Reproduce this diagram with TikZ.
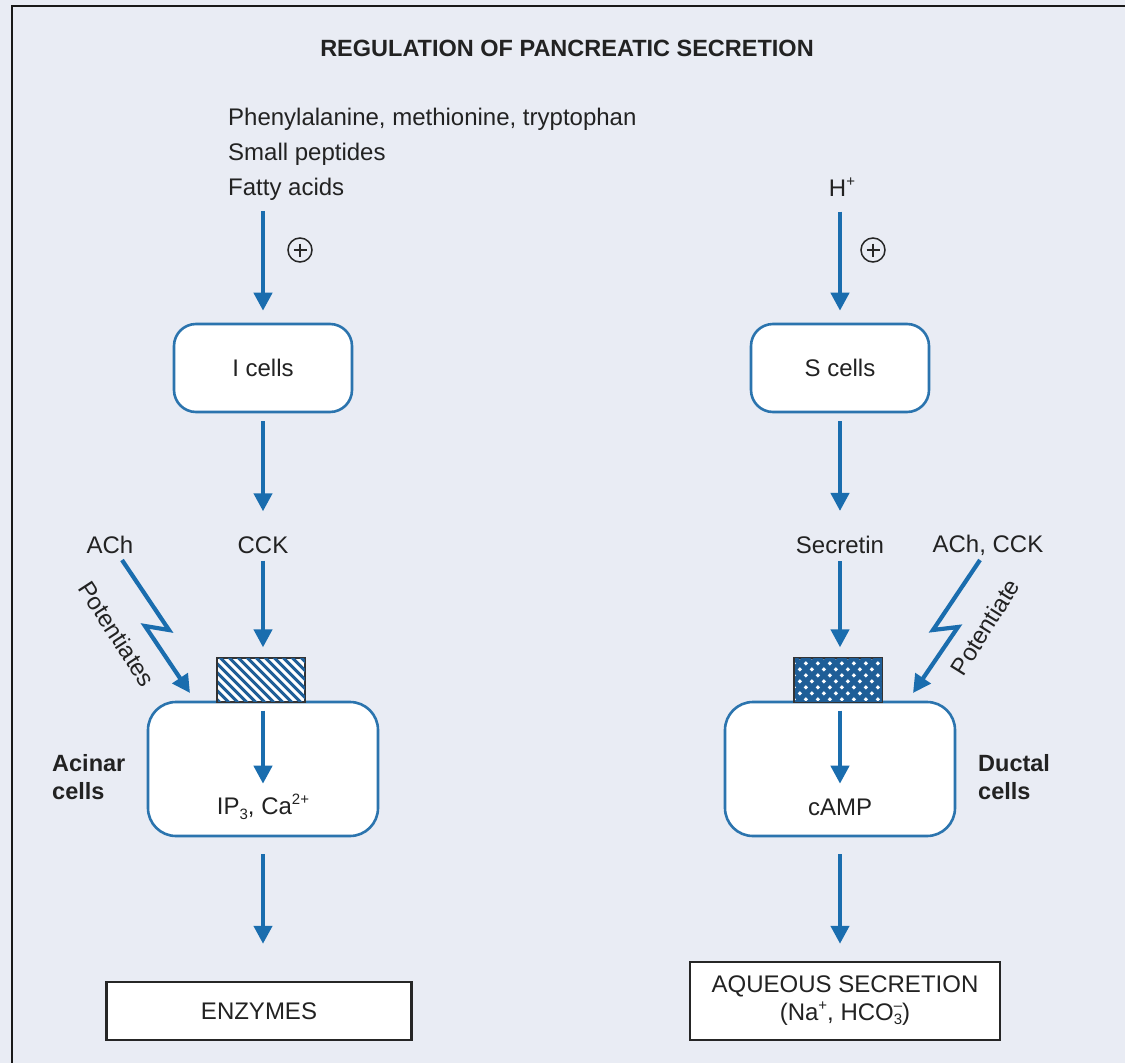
\documentclass[tikz,border=0pt]{standalone}
\usepackage{fontspec}
\setmainfont{Liberation Sans}
\usetikzlibrary{arrows.meta}
\definecolor{bgc}{HTML}{E9ECF4}
\definecolor{arrblue}{HTML}{1A6DAE}
\definecolor{boxblue}{HTML}{2B74AE}
\definecolor{hatchblue}{HTML}{1F5E97}
\definecolor{txt}{HTML}{222222}
\newcommand\upsc[1]{\raisebox{0.42em}{\fontsize{15}{15}\selectfont #1}}
\newcommand\dnsc[1]{\raisebox{-0.22em}{\fontsize{15}{15}\selectfont #1}}
\begin{document}
\begin{tikzpicture}[x=1pt,y=-1pt,
  font=\fontsize{24}{28}\selectfont, text=txt,
  arr/.style={draw=arrblue, line width=4.2pt, -{Triangle[width=18pt,length=18pt]}},
  cellbox/.style={draw=boxblue, line width=2.6pt, fill=white, rounded corners=22pt,
     minimum width=178pt, minimum height=88pt, inner sep=0pt},
  bigbox/.style={draw=boxblue, line width=2.6pt, fill=white, rounded corners=28pt,
     minimum width=230pt, minimum height=134pt, inner sep=0pt},
  recbox/.style={draw=black!80, line width=1.3pt, fill=white,
     minimum width=87pt, minimum height=44pt, inner sep=0pt},
  outbox/.style={draw=black!85, line width=2.4pt, fill=white, inner sep=0pt, align=center},
  lbl/.style={inner sep=0pt},
  plusc/.style={circle, draw=black!85, line width=1.5pt, minimum size=24pt, inner sep=0pt},
  hatchline/.style={draw=hatchblue, line width=3pt},
  crossline/.style={draw=hatchblue, line width=5pt}]
\fill[bgc] (0,0) rectangle (1125,1063);
\useasboundingbox (0,0) rectangle (1125,1063);
\draw[black!90, line width=2.6pt] (12,1063) -- (12,6) -- (1125,6);

% title
\node[lbl, font=\fontsize{23.5}{27}\selectfont\bfseries] (title) at (567,48) {REGULATION OF PANCREATIC SECRETION};

% stimuli
\node[lbl, anchor=north west, align=left, font=\fontsize{24}{35}\selectfont] (stim) at (228,108)
  {Phenylalanine, methionine, tryptophan\\Small peptides\\Fatty acids};
\node[lbl] (hplus) at (842,187) {H\upsc{+}};

% cells
\node[cellbox] (icells) at (263,368) {I cells};
\node[cellbox] (scells) at (840,368) {S cells};

% plus signs
\node[plusc] (p1) at (300,250) {};
\draw[black!85, line width=1.7pt] (p1.center) +(-6.5,0) -- +(6.5,0) (p1.center) +(0,-6.5) -- +(0,6.5);
\node[plusc] (p2) at (873,250) {};
\draw[black!85, line width=1.7pt] (p2.center) +(-6.5,0) -- +(6.5,0) (p2.center) +(0,-6.5) -- +(0,6.5);

% hormones
\node[lbl] (cck) at (263,545) {CCK};
\node[lbl] (secretin) at (840,545) {Secretin};
\node[lbl] (ach) at (110,545) {ACh};
\node[lbl] (achcck) at (988,545) {ACh, CCK};

% acinar / ductal cells
\node[bigbox] (acinar) at (263,769) {};
\node[bigbox] (ductal) at (840,769) {};
\node[lbl] (ip3) at (263,807) {IP\dnsc{3}, Ca\upsc{2+}};
\node[lbl] (camp) at (840,807) {cAMP};
\node[lbl, anchor=west, align=left, font=\fontsize{23.5}{28}\selectfont\bfseries] (acl) at (52,777) {Acinar\\cells};
\node[lbl, anchor=west, align=left, font=\fontsize{23.5}{28}\selectfont\bfseries] (dcl) at (978,777) {Ductal\\cells};

% receptors
\node[recbox] (rec1) at (261,680) {};
\begin{scope}
  \clip (rec1.south west) rectangle (rec1.north east);
  \foreach \i in {-60,-51,...,110} \draw[hatchline] ([xshift=\i pt]rec1.north west) -- ++(60,60);
\end{scope}
\draw[black!80, line width=1.3pt] (rec1.south west) rectangle (rec1.north east);

\node[recbox] (rec2) at (838,680) {};
\begin{scope}
  \clip (rec2.south west) rectangle (rec2.north east);
  \foreach \i in {-60,-48,...,170} {
    \draw[crossline] ([xshift=\i pt]rec2.north west) -- ++(60,60);
    \draw[crossline] ([xshift=\i pt]rec2.north west) -- ++(-60,60);
  }
\end{scope}
\draw[black!80, line width=1.3pt] (rec2.south west) rectangle (rec2.north east);

% outputs
\node[outbox, minimum width=305pt, minimum height=58pt] (enz) at (259,1011) {ENZYMES};
\node[outbox, minimum width=310pt, minimum height=78pt, font=\fontsize{24}{28}\selectfont] (aq) at (845,1001)
  {AQUEOUS SECRETION\\(Na\upsc{+}, HCO{\fontsize{15}{15}\selectfont\raisebox{-4pt}{3}\llap{\raisebox{10pt}{\textendash}}})};

% arrows left column
\draw[arr, shorten <=10pt, shorten >=12pt] (stim.south -| icells.north) -- (icells.north);
\draw[arr, shorten <=8pt, shorten >=25pt] (icells.south) -- (cck.north -| icells.south);
\draw[arr, shorten <=7pt, shorten >=10pt] (cck.south) -- (rec1.north -| cck.south);
\draw[arr] ([yshift=-10pt]acinar.north) -- ([yshift=-83pt]acinar.north);
\draw[arr, shorten <=17pt, shorten >=37pt] (acinar.south) -- (enz.north -| acinar.south);

% arrows right column
\draw[arr, shorten <=15pt, shorten >=12pt] (hplus.south -| scells.north) -- (scells.north);
\draw[arr, shorten <=8pt, shorten >=25pt] (scells.south) -- (secretin.north);
\draw[arr, shorten <=7pt, shorten >=10pt] (secretin.south) -- (rec2.north -| secretin.south);
\draw[arr] ([yshift=-10pt]ductal.north) -- ([yshift=-83pt]ductal.north);
\draw[arr, shorten <=17pt, shorten >=17pt] (ductal.south) -- (aq.north -| ductal.south);

% lightning arrows
\coordinate (la) at (122,560);
\coordinate (lb) at (169,630);
\coordinate (lc) at (145,626);
\coordinate (ld) at (190,693);
\draw[arr, line join=miter] (la) -- (lb) -- (lc) -- (ld);
\node[lbl, rotate=-57] (pot1) at (117,634) {Potentiates};

\coordinate (ra) at (980,560);
\coordinate (rb) at (933,630);
\coordinate (rc) at (958,627);
\coordinate (rd) at (913,693);
\draw[arr, line join=miter] (ra) -- (rb) -- (rc) -- (rd);
\node[lbl, rotate=58] (pot2) at (985,627) {Potentiate};
\end{tikzpicture}
\end{document}
